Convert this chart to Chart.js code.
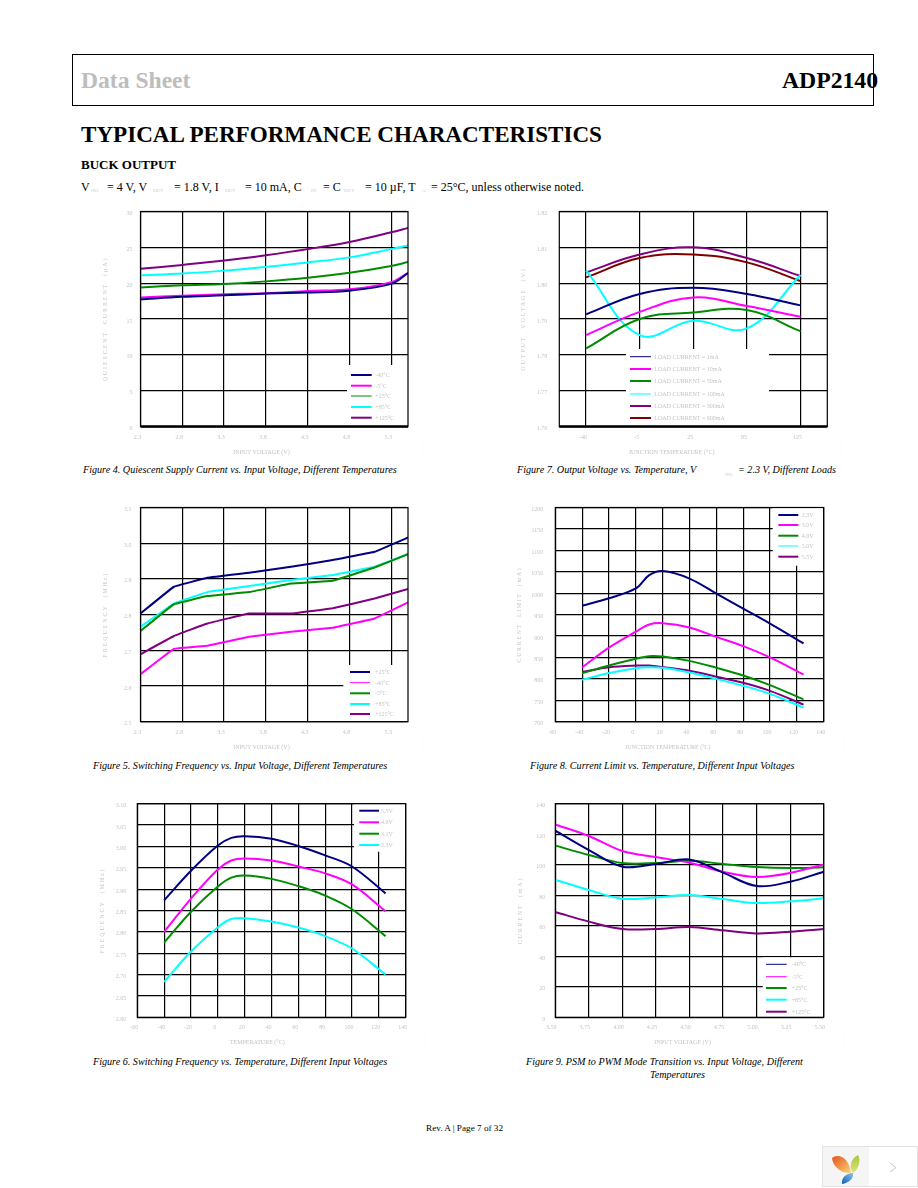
<!DOCTYPE html>
<html><head><meta charset="utf-8">
<style>
html,body{margin:0;padding:0;background:#fff;}
#page{position:relative;width:918px;height:1188px;overflow:hidden;font-family:"Liberation Serif",serif;color:#000;}
.t{position:absolute;white-space:nowrap;line-height:1;}
.s{font-size:5px;color:#ccc;}
.c{font-style:italic;font-size:10.15px;}
canvas{position:absolute;}
.fid{position:absolute;font-size:4px;color:#e2e2e2;transform:rotate(-90deg);transform-origin:left top;white-space:nowrap;line-height:1;}
</style>
<script src="https://cdn.jsdelivr.net/npm/chart.js@4"></script>
</head><body><div id="page">
<div style="position:absolute;left:72px;top:54px;width:800px;height:50px;border:1px solid #000;"></div>
<div class="t" style="left:81px;top:69px;font-size:23.6px;font-weight:bold;color:#bdbdbd;">Data Sheet</div>
<div class="t" style="left:782px;top:69px;font-size:23.7px;font-weight:bold;">ADP2140</div>
<div class="t" style="left:81px;top:123px;font-size:23.1px;font-weight:bold;">TYPICAL PERFORMANCE CHARACTERISTICS</div>
<div class="t" style="left:81px;top:158px;font-size:13px;font-weight:bold;">BUCK OUTPUT</div>
<div class="t" style="left:81px;top:181px;font-size:12px;">V</div><div class="t s" style="left:91px;top:188px;">IN1</div>
<div class="t" style="left:107px;top:181px;font-size:12px;">= 4 V, V</div><div class="t s" style="left:153px;top:188px;">OUT</div>
<div class="t" style="left:174px;top:181px;font-size:12px;">= 1.8 V, I</div><div class="t s" style="left:225px;top:188px;">OUT</div>
<div class="t" style="left:245px;top:181px;font-size:12px;">= 10 mA, C</div><div class="t s" style="left:311px;top:188px;">IN</div>
<div class="t" style="left:323px;top:181px;font-size:12px;">= C</div><div class="t s" style="left:344px;top:188px;">OUT</div>
<div class="t" style="left:365px;top:181px;font-size:12px;">= 10 µF, T</div><div class="t s" style="left:422px;top:188px;">A</div>
<div class="t" style="left:431px;top:181px;font-size:12px;">= 25°C, unless otherwise noted.</div>

<canvas id="c4"></canvas><canvas id="c7"></canvas><canvas id="c5"></canvas><canvas id="c8"></canvas><canvas id="c6"></canvas><canvas id="c9"></canvas>

<div class="t c" style="left:83px;top:465px;">Figure 4. Quiescent Supply Current vs. Input Voltage, Different Temperatures</div>
<div class="t c" style="left:517px;top:465px;">Figure 7. Output Voltage vs. Temperature, V</div><div class="t s" style="left:725px;top:472px;">IN1</div>
<div class="t c" style="left:738px;top:465px;">= 2.3 V, Different Loads</div>
<div class="t c" style="left:93px;top:761px;">Figure 5. Switching Frequency vs. Input Voltage, Different Temperatures</div>
<div class="t c" style="left:530px;top:761px;">Figure 8. Current Limit vs. Temperature, Different Input Voltages</div>
<div class="t c" style="left:93px;top:1057px;">Figure 6. Switching Frequency vs. Temperature, Different Input Voltages</div>
<div class="t c" style="left:526px;top:1057px;">Figure 9. PSM to PWM Mode Transition vs. Input Voltage, Different</div>
<div class="t c" style="left:650px;top:1070px;">Temperatures</div>
<div class="t" style="left:426px;top:1124px;font-size:9.2px;">Rev. A | Page 7 of 32</div>

<div style="position:absolute;left:822px;top:1146px;width:46px;height:39px;background:#f5f5f5;border:1px solid #e2e2e2;"></div>
<div style="position:absolute;left:869px;top:1146px;width:48px;height:39px;background:#fff;border:1px solid #e2e2e2;border-left:none;"></div>
<svg style="position:absolute;left:822px;top:1146px;" width="96" height="41" viewBox="0 0 96 41">
<defs>
<linearGradient id="g1" x1="0" y1="0" x2="1" y2="1"><stop offset="0" stop-color="#e8501c"/><stop offset="1" stop-color="#f7d77a"/></linearGradient>
<linearGradient id="g2" x1="0" y1="0" x2="0" y2="1"><stop offset="0" stop-color="#a4c83c"/><stop offset="1" stop-color="#dfe27a"/></linearGradient>
<linearGradient id="g3" x1="1" y1="0" x2="0" y2="1"><stop offset="0" stop-color="#8ec4e8"/><stop offset="1" stop-color="#0a5fb4"/></linearGradient>
</defs>
<path d="M10 12 C16 7 27 11 29 27 C21 28 11 22 10 12Z" fill="url(#g1)"/>
<path d="M36 9 C39 14 37 23 31 27 C27 22 28 13 36 9Z" fill="url(#g2)"/>
<path d="M20 38 C19 32 24 27 31 27 C32 32 27 37 20 38Z" fill="url(#g3)"/>
<path d="M68 17 L74 21.5 L68 26" fill="none" stroke="#c8c8c8" stroke-width="1"/>
</svg>

<div class="fid" style="left:421px;top:456px;">· · · · · · ·</div>
<div class="fid" style="left:840px;top:456px;">· · · · · · ·</div>
<div class="fid" style="left:421px;top:752px;">· · · · · · ·</div>
<div class="fid" style="left:843px;top:752px;">· · · · · · ·</div>
<div class="fid" style="left:424px;top:1048px;">· · · · · · ·</div>
<div class="fid" style="left:843px;top:1048px;">· · · · · · ·</div>
</div>
<script>
const NAVY='#000080',MAG='#ff00ff',GRN='#008c00',CYAN='#00ffff',PUR='#800080',DRED='#800000';

// Figure 4
const fig4Voltage=[2.3,2.8,3.3,3.8,4.3,4.8,5.3,5.5];
const fig4M40=[17.75,18.1,18.3,18.55,18.7,18.95,19.9,21.4];
const fig4M5=[18,18.25,18.45,18.6,18.9,19.15,20.15,21.45];
const fig4P25=[19.4,19.7,19.9,20.25,20.75,21.45,22.4,22.95];
const fig4P85=[21.1,21.35,21.75,22.25,22.9,23.6,24.75,25.25];
const fig4P125=[22,22.55,23.15,23.9,24.75,25.75,27.1,27.7];
const fig4XTicks=[2.3,2.8,3.3,3.8,4.3,4.8,5.3];
const fig4YTicks=[0,5,10,15,20,25,30];
const tempLabels=['-40°C','-5°C','+25°C','+85°C','+125°C'];

// Figure 7
const fig7Temps=['-40','-5','25','85','125'];
const fig7Load1=[1.7913,1.797,1.7987,1.797,1.7938];
const fig7Load10=[1.7855,1.792,1.796,1.7936,1.7906];
const fig7Load50=[1.7818,1.79,1.7918,1.7925,1.7866];
const fig7Load100=[1.8035,1.7855,1.7895,1.7874,1.8023];
const fig7Load300=[1.803,1.808,1.81,1.807,1.802];
const fig7Load600=[1.8016,1.807,1.808,1.8058,1.8006];
const fig7YTicks=[1.76,1.77,1.78,1.79,1.80,1.81,1.82];
const fig7Labels=['LOAD CURRENT = 1mA','LOAD CURRENT = 10mA','LOAD CURRENT = 50mA','LOAD CURRENT = 100mA','LOAD CURRENT = 300mA','LOAD CURRENT = 600mA'];

// Figure 5
const fig5Voltage=[2.3,2.7,3.1,3.6,4.1,4.6,5.1,5.5];
const fig5P25=[2.803,2.878,2.903,2.917,2.934,2.953,2.976,3.016];
const fig5M40=[2.633,2.704,2.713,2.738,2.752,2.763,2.789,2.834];
const fig5M5=[2.754,2.829,2.852,2.863,2.887,2.895,2.932,2.969];
const fig5P85=[2.766,2.831,2.863,2.88,2.897,2.911,2.934,2.97];
const fig5P125=[2.689,2.74,2.775,2.803,2.803,2.818,2.845,2.872];
const fig5XTicks=[2.3,2.8,3.3,3.8,4.3,4.8,5.3];
const fig5YTicks=[2.5,2.6,2.7,2.8,2.9,3.0,3.1];
const fig5Labels=['+25°C','-40°C','-5°C','+85°C','+125°C'];

// Figure 8
const fig8Temp=[-40,-20,0,10,20,40,60,80,100,125];
const fig8V23=[970.6,988,1011,1042,1051.5,1034,999,964,929,883];
const fig8V30=[827,873,910,927,930,920,898,876.5,850,810];
const fig8V40=[813,831,847,853,852,842,826,808,785.5,752];
const fig8V50=[798,813.5,825,827,826,815,800,784,765,733];
const fig8V55=[816,827,831,831,827.5,819,805,791,772,740];
const tempXTicks=[-60,-40,-20,0,20,40,60,80,100,120,140];
const fig8YTicks=[700,750,800,850,900,950,1000,1050,1100,1150,1200];
const fig8Labels=['2.3V','3.0V','4.0V','5.0V','5.5V'];

// Figure 6
const fig6Temp=[-40,-20,0,10,20,40,60,80,100,125];
const fig6V55=[2.874,2.943,3.002,3.02,3.024,3.018,3.001,2.979,2.953,2.89];
const fig6V46=[2.80,2.878,2.946,2.967,2.972,2.967,2.953,2.937,2.911,2.848];
const fig6V31=[2.775,2.847,2.906,2.927,2.932,2.924,2.907,2.885,2.853,2.79];
const fig6V23=[2.683,2.754,2.811,2.83,2.832,2.824,2.81,2.79,2.761,2.70];
const fig6YTicks=[2.60,2.65,2.70,2.75,2.80,2.85,2.90,2.95,3.00,3.05,3.10];
const fig6Labels=['5.5V','4.6V','3.1V','2.3V'];

// Figure 9
const fig9Voltage=[3.5,3.75,4,4.25,4.5,4.75,5,5.25,5.5];
const fig9M40=[122.3,109.6,98.7,100.5,103.5,94.8,86,88.9,95.4];
const fig9M5=[126.4,118.8,109,105,101.3,95.4,92,94.6,100.2];
const fig9P25=[112.5,106.4,101.1,101.1,102.6,100.5,98.5,97.8,98.3];
const fig9P85=[90.2,83.4,77.7,78.6,80.1,77.5,74.9,76,78];
const fig9P125=[69,62.7,57.9,57.9,59.2,57,55,56.1,57.9];
const fig9XTicks=[3.5,3.75,4,4.25,4.5,4.75,5,5.25,5.5];
const fig9YTicks=[0,20,40,60,80,100,120,140];

const GREY='#c4c4c4';

// Legend + frame, drawn by the chart itself from its dataset labels and colours
const framePlugin={id:'frameLegend',afterDraw(chart,args,o){
  const c=chart.ctx,a=chart.chartArea,ox=o.canvasLeft,oy=o.canvasTop,l=o.legend;
  c.save();
  c.fillStyle='#fff';
  c.fillRect(l.box[0]-ox,l.box[1]-oy,l.box[2]-l.box[0],l.box[3]-l.box[1]);
  c.textBaseline='middle';c.textAlign='left';c.font='6px "Liberation Serif"';
  chart.data.datasets.forEach((d,i)=>{
    const y=l.rows[i]-oy;
    c.strokeStyle=d.borderColor;
    c.lineWidth=(o.thin||[]).includes(i)?1:2;
    c.beginPath();c.moveTo(l.lineX[0]-ox,y);c.lineTo(l.lineX[1]-ox,y);c.stroke();
    c.fillStyle=GREY;
    c.fillText(d.label,l.textX-ox,y+0.5);
  });
  c.strokeStyle='#000';c.lineWidth=1.2;
  c.strokeRect(a.left,a.top,a.right-a.left,a.bottom-a.top);
  if(o.baseWidth){c.lineWidth=o.baseWidth;c.beginPath();c.moveTo(a.left,a.bottom);c.lineTo(a.right,a.bottom);c.stroke();}
  c.restore();
}};

function pts(xs,ys){return xs.map((x,i)=>({x,y:ys[i]}));}
function spaceTitle(s,sp){
  if(s._spaced)return;s._spaced=true;
  const orig=s.drawTitle;
  s.drawTitle=function(){const c=this.ctx;c.letterSpacing=sp+'px';orig.call(this);c.letterSpacing='0px';};
}
function build(cfg){
  const cv=document.getElementById(cfg.id);
  const [L,T,R,B]=cfg.canvas;
  cv.style.left=L+'px';cv.style.top=T+'px';
  const [pl,pt,pr,pb]=cfg.plot;
  const tickFont={family:'"Liberation Serif"',size:6};
  const x={
    type:cfg.category?'category':'linear',
    offset:!!cfg.category,
    labels:cfg.category?cfg.category:undefined,
    grid:{color:'#000',lineWidth:1.2,drawTicks:false,offset:false},
    border:{display:false},
    ticks:{font:tickFont,color:GREY,padding:7,maxRotation:0,autoSkip:false,labelOffset:cfg.xOff||-3,
      callback:cfg.category?(function(v){return this.getLabelForValue(v);}):(v=>v.toFixed(cfg.xDec))},
    title:{display:true,text:cfg.xTitle+' '.repeat(cfg.xPad||0),font:tickFont,color:GREY,padding:0},
    afterFit:s=>{s.height=B-pb;}
  };
  if(!cfg.category){
    x.min=cfg.xRange[0];x.max=cfg.xRange[1];
    x.afterBuildTicks=s=>{s.ticks=cfg.xTicks.map(v=>({value:v}));};
  }
  const y={
    min:cfg.yTicks[0],max:cfg.yTicks[cfg.yTicks.length-1],
    grid:{color:'#000',lineWidth:1.2,drawTicks:false},
    border:{display:false},
    ticks:{font:tickFont,color:GREY,padding:cfg.yPad,labelOffset:2,autoSkip:false,callback:v=>v.toFixed(cfg.yDec)},
    afterBuildTicks:s=>{s.ticks=cfg.yTicks.map(v=>({value:v}));},
    title:{display:true,text:cfg.yTitle,font:tickFont,color:GREY,padding:0},
    afterFit:s=>{s.width=pl-L;spaceTitle(s,cfg.ySpace);}
  };
  new Chart(cv,{type:'line',
    data:{labels:cfg.category,datasets:cfg.series.map(s=>({label:s.label,data:s.data,borderColor:s.color,borderWidth:s.w||2,pointRadius:0,tension:cfg.tension,fill:false}))},
    plugins:[framePlugin],
    options:{responsive:false,animation:false,devicePixelRatio:1,
      layout:{padding:{left:0,top:pt-T,right:R-pr,bottom:0}},
      scales:{x,y},
      plugins:{legend:{display:false},tooltip:{enabled:false},
        frameLegend:{canvasLeft:L,canvasTop:T,legend:cfg.legend,thin:cfg.thin,baseWidth:cfg.baseWidth}}}
  });
}
function sizeCanvas(id,b){const c=document.getElementById(id);c.width=b[2]-b[0];c.height=b[3]-b[1];c.style.width=c.width+'px';c.style.height=c.height+'px';}

const figures=[
{id:'c4',canvas:[102,188,432,456],plot:[140.5,211.5,408,426.5],xRange:[2.3,5.5],xTicks:fig4XTicks,xDec:1,yTicks:fig4YTicks,yDec:0,yPad:8,ySpace:1.9,tension:0.35,baseWidth:2.4,
 xTitle:'INPUT VOLTAGE (V)',xPad:17,yTitle:'QUIESCENT  CURRENT  (µA)',thin:[2],
 legend:{box:[347,365,408,426],rows:[375,385.7,396,407,417.7],lineX:[351,371.7],textX:375.3},
 series:[{label:tempLabels[0],color:NAVY,data:pts(fig4Voltage,fig4M40)},{label:tempLabels[1],color:MAG,data:pts(fig4Voltage,fig4M5)},{label:tempLabels[2],color:GRN,data:pts(fig4Voltage,fig4P25)},{label:tempLabels[3],color:CYAN,data:pts(fig4Voltage,fig4P85)},{label:tempLabels[4],color:PUR,data:pts(fig4Voltage,fig4P125)}]},
{id:'c7',canvas:[520,188,851,456],plot:[559.3,211.5,827.3,426.5],category:fig7Temps,yTicks:fig7YTicks,yDec:2,yPad:12,ySpace:1.9,tension:0.4,baseWidth:2.4,
 xTitle:'JUNCTION TEMPERATURE (°C)',xPad:29,yTitle:'OUTPUT  VOLTAGE  (V)',thin:[0,3],
 legend:{box:[626,349,769,426],rows:[356.7,369,381,394,406,418],lineX:[630,651],textX:654.3},
 series:[{label:fig7Labels[0],color:NAVY,data:fig7Load1},{label:fig7Labels[1],color:MAG,data:fig7Load10},{label:fig7Labels[2],color:GRN,data:fig7Load50},{label:fig7Labels[3],color:CYAN,data:fig7Load100},{label:fig7Labels[4],color:PUR,data:fig7Load300},{label:fig7Labels[5],color:DRED,data:fig7Load600}]},
{id:'c5',canvas:[102,484,432,751],plot:[140.5,507.5,408,721.7],xRange:[2.3,5.5],xTicks:fig5XTicks,xDec:1,yTicks:fig5YTicks,yDec:1,yPad:9,ySpace:1.9,tension:0.05,
 xTitle:'INPUT VOLTAGE (V)',xPad:17,yTitle:'FREQUENCY  (MHz)',thin:[1],
 legend:{box:[343.3,665,408,721],rows:[672,682.7,693.3,704,714],lineX:[350,370],textX:375},
 series:[{label:fig5Labels[0],color:NAVY,data:pts(fig5Voltage,fig5P25)},{label:fig5Labels[1],color:MAG,data:pts(fig5Voltage,fig5M40)},{label:fig5Labels[2],color:GRN,data:pts(fig5Voltage,fig5M5)},{label:fig5Labels[3],color:CYAN,data:pts(fig5Voltage,fig5P85)},{label:fig5Labels[4],color:PUR,data:pts(fig5Voltage,fig5P125)}]},
{id:'c8',canvas:[516,484,848,751],plot:[555.3,507.5,823.7,721.7],xRange:[-60,140],xTicks:tempXTicks,xDec:0,yTicks:fig8YTicks,yDec:0,yPad:12,ySpace:1.6,tension:0.35,
 xTitle:'JUNCTION TEMPERATURE (°C)',xPad:29,yTitle:'CURRENT  LIMIT  (mA)',thin:[3],
 legend:{box:[772.7,508,823,565.7],rows:[515,525,535.7,546,556.7],lineX:[778.3,798.3],textX:801.7},
 series:[{label:fig8Labels[0],color:NAVY,data:pts(fig8Temp,fig8V23)},{label:fig8Labels[1],color:MAG,data:pts(fig8Temp,fig8V30)},{label:fig8Labels[2],color:GRN,data:pts(fig8Temp,fig8V40)},{label:fig8Labels[3],color:CYAN,data:pts(fig8Temp,fig8V50)},{label:fig8Labels[4],color:PUR,data:pts(fig8Temp,fig8V55)}]},
{id:'c6',canvas:[99,780,430,1046],plot:[137.3,803.7,405.7,1017.3],xRange:[-60,140],xTicks:tempXTicks,xDec:0,yTicks:fig6YTicks,yDec:2,yPad:11,ySpace:1.9,tension:0.35,
 xTitle:'TEMPERATURE (°C)',xPad:19,yTitle:'FREQUENCY  (MHz)',
 legend:{box:[354,804,405.2,851.7],rows:[810.7,822.3,833.7,845],lineX:[359.3,379],textX:381},
 series:[{label:fig6Labels[0],color:NAVY,data:pts(fig6Temp,fig6V55)},{label:fig6Labels[1],color:MAG,data:pts(fig6Temp,fig6V46)},{label:fig6Labels[2],color:GRN,data:pts(fig6Temp,fig6V31)},{label:fig6Labels[3],color:CYAN,data:pts(fig6Temp,fig6V23)}]},
{id:'c9',canvas:[517,780,848,1046],plot:[555.3,803.7,823.7,1017.3],xRange:[3.5,5.5],xTicks:fig9XTicks,xDec:2,xOff:-4,yTicks:fig9YTicks,yDec:0,yPad:10,ySpace:1.8,tension:0.35,
 xTitle:'INPUT VOLTAGE (V)',xPad:9,yTitle:'CURRENT  (mA)',thin:[0,1],
 legend:{box:[762.7,957.3,823,1017],rows:[964.3,976.7,988,999.7,1011.7],lineX:[766,786.7],textX:791.7},
 series:[{label:tempLabels[0],color:NAVY,data:pts(fig9Voltage,fig9M40)},{label:tempLabels[1],color:MAG,data:pts(fig9Voltage,fig9M5)},{label:tempLabels[2],color:GRN,data:pts(fig9Voltage,fig9P25)},{label:tempLabels[3],color:CYAN,data:pts(fig9Voltage,fig9P85)},{label:tempLabels[4],color:PUR,data:pts(fig9Voltage,fig9P125)}]}
];
figures.forEach(f=>{sizeCanvas(f.id,f.canvas);build(f);});
</script>
</body></html>
